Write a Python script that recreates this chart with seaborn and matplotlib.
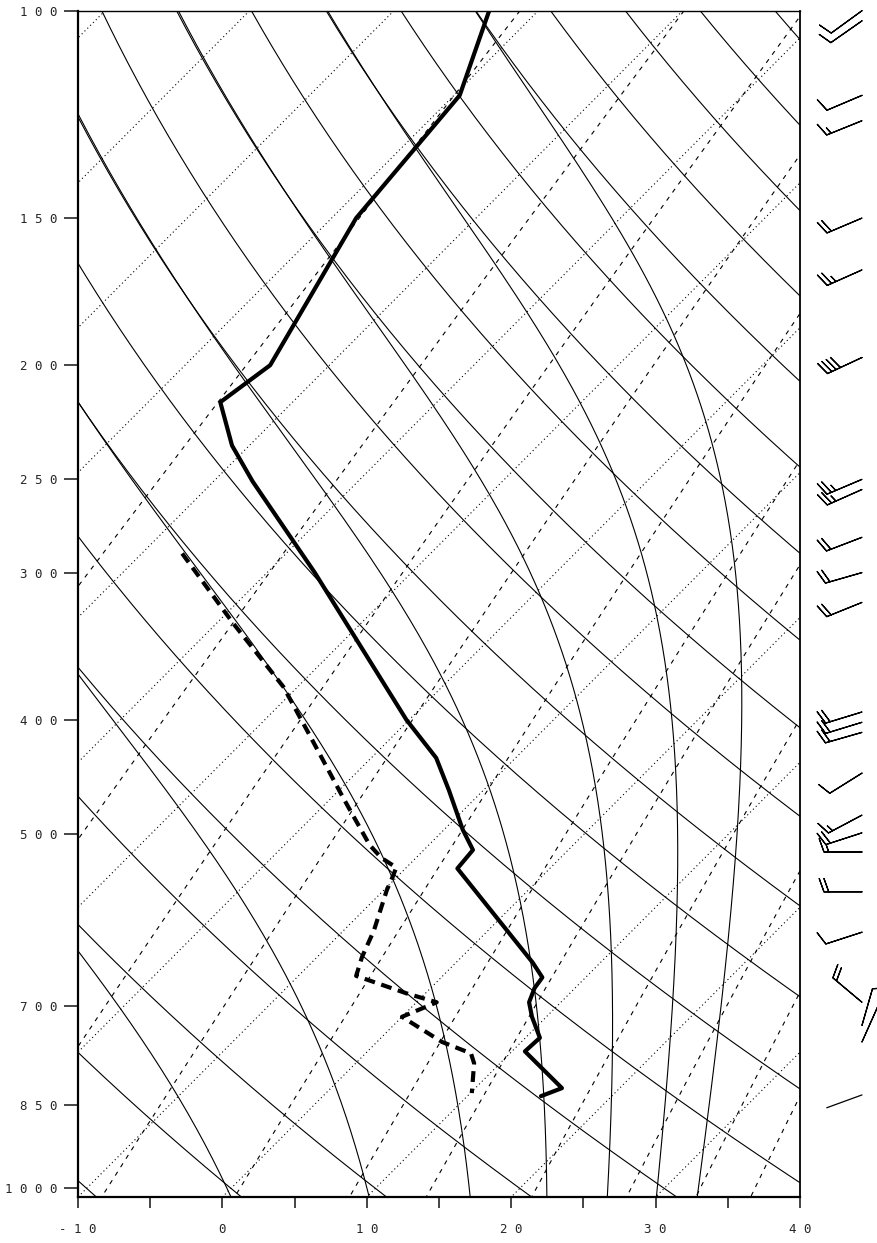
import numpy as np
import matplotlib
matplotlib.use("Agg")
import matplotlib.pyplot as plt
import seaborn as sns
from matplotlib.ticker import FixedLocator, NullLocator, FixedFormatter

# ---- sounding data -------------------------------------------------------
# temperature profile (hPa, deg C)
pres_t = [100, 118, 150, 200, 215, 234, 251, 300, 400, 431, 459, 496, 516,
          535, 643, 662, 676, 695, 715, 745, 765, 822, 835]
temp_c = [-63.4, -59.6, -58.3, -54.1, -55.0, -51.2, -47.3, -36.7, -20.2,
          -15.5, -12.4, -8.7, -6.6, -6.4, 5.3, 7.0, 7.2, 7.8, 9.0, 11.0,
          10.9, 16.0, 15.1]

# dew point profile (hPa, deg C)
pres_td = [289, 331, 375, 411, 465, 477, 511, 524, 534, 544, 558, 604, 636,
           660, 683, 695, 715, 751, 768, 783, 830]
dewp_c = [-47.2, -38.9, -31.0, -26.0, -19.3, -17.9, -14.1, -12.4, -10.7,
          -10.3, -9.8, -7.9, -6.9, -6.0, -1.3, 1.4, 0.0, 4.5, 7.3, 8.2, 10.1]

# winds (hPa, direction deg, speed kt)
wind_p = [100, 102, 118, 124, 150, 166, 197, 250, 255, 280, 300, 318, 394,
          402, 410, 444, 482, 499, 518, 560, 606, 695, 727, 751, 833]
wind_dir = [234, 235, 247, 248, 247, 246, 245, 247, 246, 249, 254, 248, 253,
            253, 254, 238, 242, 252, 270, 270, 252, 310, 16, 24, 250]
wind_kt = [10, 10, 10, 15, 20, 25, 40, 25, 25, 20, 20, 20, 20, 20, 20, 10,
           15, 20, 15, 20, 10, 20, 10, 10, 3]

# axis labelling
pressure_ticks = [100, 150, 200, 250, 300, 400, 500, 700, 850, 1000]
temp_ticks = [-10, -5, 0, 5, 10, 15, 20, 25, 30, 35, 40]

# background line families
isotherms_c = list(range(-110, 50, 10))
dry_theta_c = list(range(-20, 200, 10))
moist_thetae_c = [10, 30, 50, 70, 90, 110, 130]
mixing_gkg = [0.1, 0.4, 1, 2, 4, 7, 10, 16, 24, 32, 40]

# ---- diagram geometry ----------------------------------------------------
P_BOT, P_TOP = 1017.0, 100.0
SKEW = 35.3          # deg C of skew per unit ln(p)
KAPPA = 0.2857


def skew_x(t, p):
    return np.asarray(t, float) + SKEW * np.log(P_BOT / np.asarray(p, float))


def td_from_e(e):
    lg = np.log(e / 6.112)
    return 243.5 * lg / (17.67 - lg)


def theta_e(tc, p):
    tk = tc + 273.15
    es = 6.112 * np.exp(17.67 * tc / (tc + 243.5))
    r = 622.0 * es / (p - es)
    return (tk * (1000.0 / p) ** (0.2854 * (1 - 0.00028 * r))
            * np.exp((3.376 / tk - 0.00254) * r * (1 + 0.00081 * r)))


def moist_adiabat(te_k, p):
    lo = np.full_like(p, -140.0)
    hi = np.minimum(60.0, td_from_e(0.3 * p))
    for _ in range(70):
        mid = 0.5 * (lo + hi)
        warm = theta_e(mid, p) > te_k
        hi = np.where(warm, mid, hi)
        lo = np.where(warm, lo, mid)
    return 0.5 * (lo + hi)


sns.set_style("white")
plt.rcParams["font.family"] = ["DejaVu Sans Mono"]

W, H = 877, 1243
fig = plt.figure(figsize=(W / 100, H / 100), dpi=100)
ax_rect = [78 / W, (H - 1197) / H, 722 / W, (1197 - 10.7) / H]
ax = fig.add_axes(ax_rect)
ax.set_yscale("log")

pg = np.geomspace(P_TOP, P_BOT, 400)
thin = dict(color="black", linewidth=0.8)

for t in isotherms_c:
    ax.plot(skew_x(t, pg), pg, linestyle=(0, (1, 2.6)), **thin)

for th in dry_theta_c:
    t = (th + 273.15) * (pg / 1000.0) ** KAPPA - 273.15
    ax.plot(skew_x(t, pg), pg, linestyle="-", **thin)

for te in moist_thetae_c:
    t = moist_adiabat(te + 273.15, pg)
    ax.plot(skew_x(t, pg), pg, linestyle="-", **thin)

for w in mixing_gkg:
    e = w * pg / (622.0 + w)
    ax.plot(skew_x(td_from_e(e), pg), pg, linestyle=(0, (4, 5)), **thin)

# profiles
sns.lineplot(x=skew_x(temp_c, pres_t), y=pres_t, sort=False, estimator=None,
             color="black", linewidth=3.0, ax=ax)
sns.lineplot(x=skew_x(dewp_c, pres_td), y=pres_td, sort=False,
             estimator=None, color="black", linewidth=3.0,
             linestyle=(0, (2.6, 1.6)), ax=ax)

ax.set_xlim(-10, 40)
ax.set_ylim(P_BOT, P_TOP)
ax.set_xlabel("")
ax.set_ylabel("")

ax.xaxis.set_major_locator(FixedLocator(temp_ticks))
ax.xaxis.set_major_formatter(FixedFormatter(
    [" ".join(str(v)) if v % 10 == 0 else "" for v in temp_ticks]))
ax.yaxis.set_major_locator(FixedLocator(pressure_ticks))
ax.yaxis.set_minor_locator(NullLocator())
ax.yaxis.set_major_formatter(FixedFormatter(
    [" ".join(str(v)) for v in pressure_ticks]))
ax.tick_params(axis="x", direction="out", length=8, width=1.2, pad=11,
               labelsize=9, bottom=True)
ax.tick_params(axis="y", direction="out", length=10, width=1.2, pad=5,
               labelsize=9, left=True)
for side, lw in (("left", 1.6), ("bottom", 1.6), ("right", 1.3),
                 ("top", 1.0)):
    ax.spines[side].set_visible(True)
    ax.spines[side].set_color("black")
    ax.spines[side].set_linewidth(lw)

# ---- wind barbs -----------------------------------------------------------
axw = fig.add_axes([800 / W, ax_rect[1], 77 / W, ax_rect[3]], sharey=ax)
axw.set_xlim(0, 1)
axw.axis("off")
wp = np.asarray(wind_p, float)
wd = np.radians(wind_dir)
ws = np.asarray(wind_kt, float)
u = -ws * np.sin(wd)
v = -ws * np.cos(wd)
tip_x = (862 - 800) / 77
has_barb = ws >= 5
axw.barbs(np.full(has_barb.sum(), tip_x), wp[has_barb], u[has_barb],
          v[has_barb], length=7.4, pivot="tip", linewidth=0.9,
          color="black", sizes=dict(height=0.35), clip_on=False)
SHAFT_PT = 27.0
for p, d in zip(wp[~has_barb], wd[~has_barb]):
    axw.annotate("", xy=(tip_x, p),
                 xytext=(SHAFT_PT * np.sin(d), SHAFT_PT * np.cos(d)),
                 textcoords="offset points",
                 arrowprops=dict(arrowstyle="-", lw=0.9, color="black",
                                 shrinkA=0, shrinkB=0))

fig.savefig("out.png", dpi=100)
